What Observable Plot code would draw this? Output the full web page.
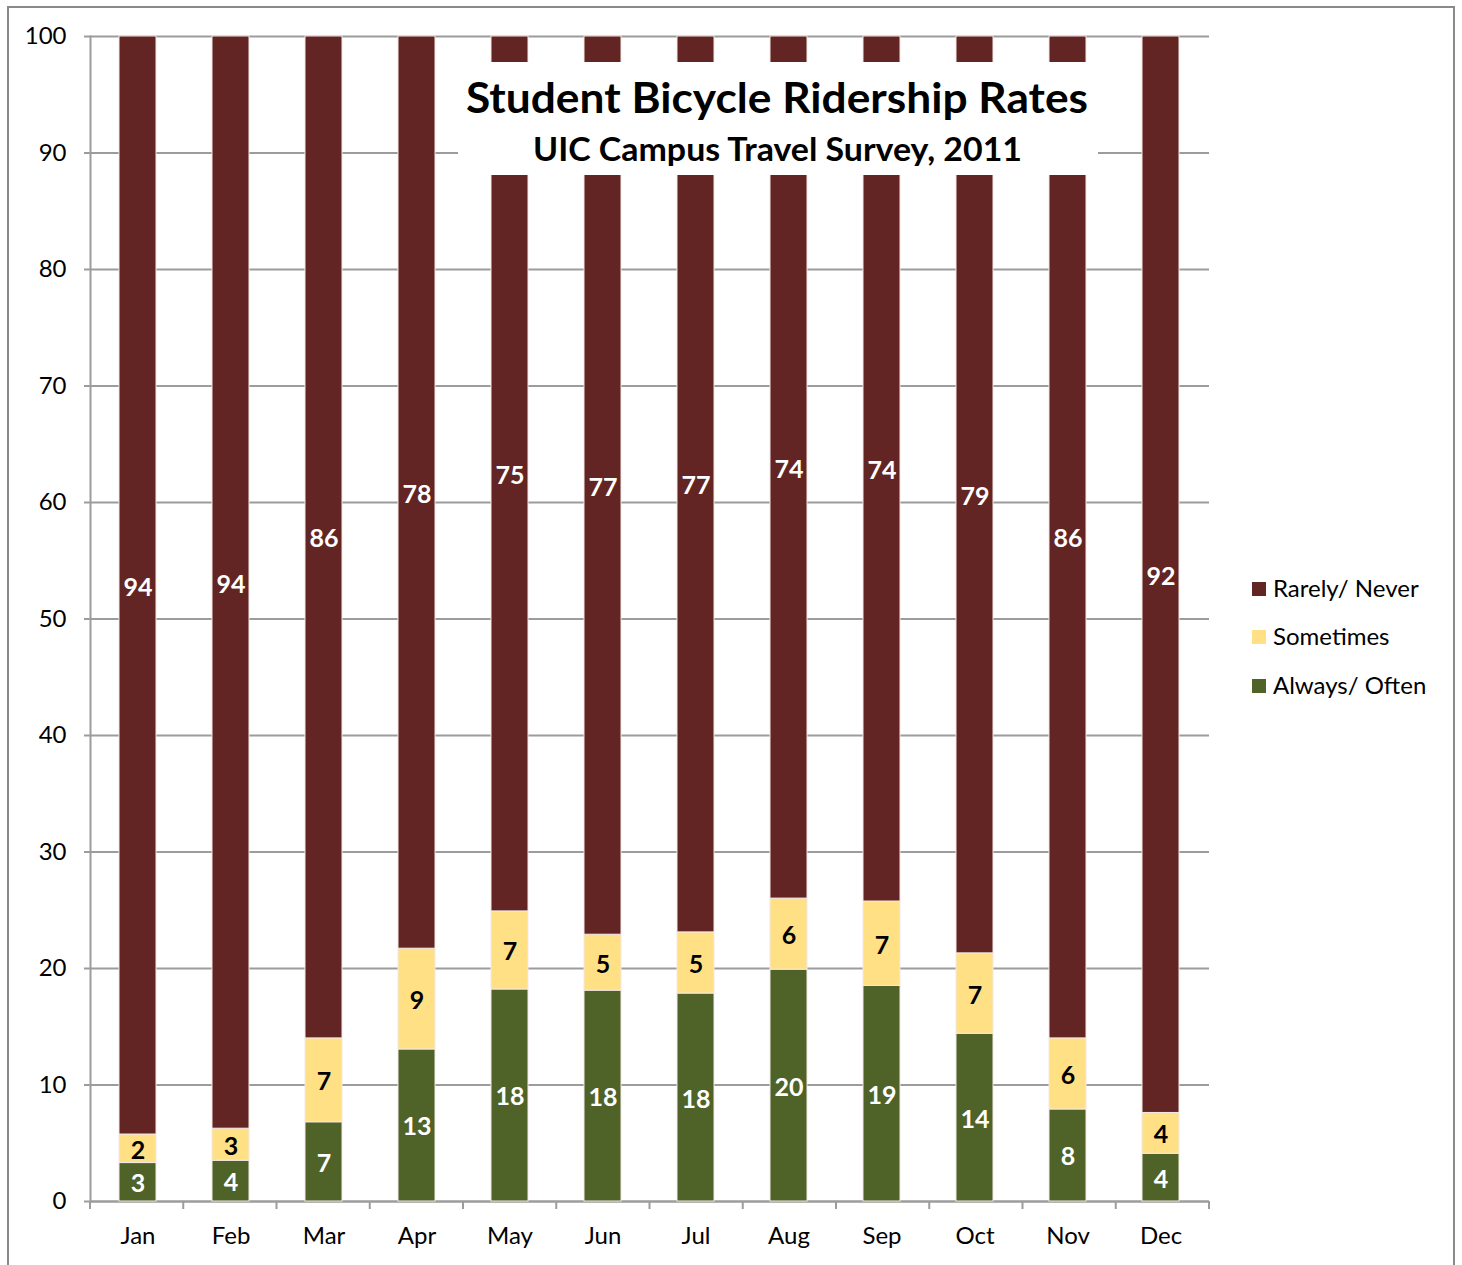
<!DOCTYPE html>
<html>
<head>
<meta charset="utf-8">
<script src="https://cdn.jsdelivr.net/npm/d3@7"></script>
<script src="https://cdn.jsdelivr.net/npm/@observablehq/plot@0.6"></script>
<style>
  body { margin: 0; background: #fff; }
  #chart { position: relative; width: 1462px; height: 1265px; }
</style>
</head>
<body>
<div id="chart"></div>
<script>
// ---- data ----
const months = ["Jan","Feb","Mar","Apr","May","Jun","Jul","Aug","Sep","Oct","Nov","Dec"];
const seriesNames = ["Always/ Often","Sometimes","Rarely/ Never"];
const alwaysOften = [3.3, 3.5, 6.8, 13.05, 18.2, 18.1, 17.85, 19.9, 18.5, 14.4, 7.9, 4.1];
const sometimes   = [2.45, 2.75, 7.2, 8.65, 6.7, 4.8, 5.25, 6.1, 7.25, 6.9, 6.1, 3.5];
const rarelyNever = [94.25, 93.75, 86.0, 78.3, 75.1, 77.1, 76.9, 74.0, 74.25, 78.7, 86.0, 92.4];
const alwaysLabels    = [3, 4, 7, 13, 18, 18, 18, 20, 19, 14, 8, 4];
const sometimesLabels = [2, 3, 7, 9, 7, 5, 5, 6, 7, 7, 6, 4];
const rarelyLabels    = [94, 94, 86, 78, 75, 77, 77, 74, 74, 79, 86, 92];
const yTicks = [0, 10, 20, 30, 40, 50, 60, 70, 80, 90, 100];
const colors = ["#4F6228", "#FFE085", "#632523"];
const labelColors = ["#ffffff", "#000000", "#ffffff"];
const titleText = "Student Bicycle Ridership Rates";
const subtitleText = "UIC Campus Travel Survey, 2011";

const valueArrays = [alwaysOften, sometimes, rarelyNever];
const labelArrays = [alwaysLabels, sometimesLabels, rarelyLabels];
const data = months.flatMap((m, i) => seriesNames.map((s, k) => ({
  month: m, series: s, value: valueArrays[k][i], label: labelArrays[k][i], labelColor: labelColors[k]
})));

const W = 1462, H = 1265;
const FONT = "Lato, 'Open Sans', sans-serif";
const GRID = "#9c9c9c";

const boundaryTicks = (index, scales, values, dims) => {
  const g = d3.create("svg:g");
  const left = dims.marginLeft, right = dims.width - dims.marginRight;
  const step = (right - left) / months.length;
  const y0 = scales.y(0);
  for (let i = 0; i <= months.length; i++) {
    const x = left + i * step;
    g.append("line").attr("x1", x).attr("x2", x).attr("y1", y0).attr("y2", y0 + 8)
      .attr("stroke", GRID).attr("stroke-width", 2);
  }
  return g.node();
};

const chart = Plot.plot({
  width: W, height: H,
  marginLeft: 90, marginRight: 253, marginTop: 36, marginBottom: 64,
  style: { fontFamily: FONT, fontSize: "24px", color: "#000", background: "transparent" },
  x: { domain: months, paddingInner: 0.6, paddingOuter: 0.3, align: 0.5, label: null },
  y: { domain: [0, 100], label: null },
  color: { domain: seriesNames, range: colors },
  marks: [
    Plot.gridY(yTicks, { stroke: GRID, strokeOpacity: 1, strokeWidth: 2 }),
    Plot.axisY({ ticks: yTicks, tickSize: 6, tickPadding: 18, stroke: GRID, strokeWidth: 2, fontSize: 24, label: null }),
    Plot.axisX({ tickSize: 0, tickPadding: 25, fontSize: 24, label: null }),
    Plot.frame({ anchor: "left", stroke: GRID, strokeWidth: 2 }),
    Plot.ruleY([0], { stroke: GRID, strokeWidth: 2 }),
    boundaryTicks,
    Plot.barY(data, Plot.stackY({
      x: "month", y: "value", z: "series", order: seriesNames, fill: "series",
      stroke: "#f3e9e4", strokeWidth: 1
    })),
    Plot.text(data, Plot.stackY({
      x: "month", y: "value", z: "series", order: seriesNames, text: "label",
      fill: { value: "labelColor", scale: null },
      fontWeight: "bold", fontSize: 25, dy: 2
    }))
  ]
});

const svg = d3.select(chart);
// outer border
svg.append("rect").attr("x", 8).attr("y", 7).attr("width", 1446).attr("height", 1300)
  .attr("fill", "none").attr("stroke", "#8a8a8a").attr("stroke-width", 2);

// title box
svg.append("rect").attr("x", 458).attr("y", 62).attr("width", 640).attr("height", 113).attr("fill", "#fff");
svg.append("text").attr("x", 777).attr("y", 113).attr("text-anchor", "middle")
  .attr("font-family", FONT).attr("font-weight", "bold").attr("font-size", 42)
  .attr("textLength", 622).attr("lengthAdjust", "spacingAndGlyphs").text(titleText);
svg.append("text").attr("x", 777.5).attr("y", 161).attr("text-anchor", "middle")
  .attr("font-family", FONT).attr("font-weight", "bold").attr("font-size", 33)
  .attr("textLength", 489).attr("lengthAdjust", "spacingAndGlyphs").text(subtitleText);

// legend (top to bottom: Rarely/ Never, Sometimes, Always/ Often)
const legendOrder = [2, 1, 0];
const legendY = [589, 637, 686];
legendOrder.forEach((k, j) => {
  svg.append("rect").attr("x", 1252).attr("y", legendY[j] - 7).attr("width", 14).attr("height", 14).attr("fill", colors[k]);
  svg.append("text").attr("x", 1273).attr("y", legendY[j]).attr("dy", "0.35em").attr("text-anchor", "start")
    .attr("font-family", FONT).attr("font-size", 24).attr("fill", "#000").text(seriesNames[k]);
});

document.getElementById("chart").appendChild(chart);
</script>
</body>
</html>
